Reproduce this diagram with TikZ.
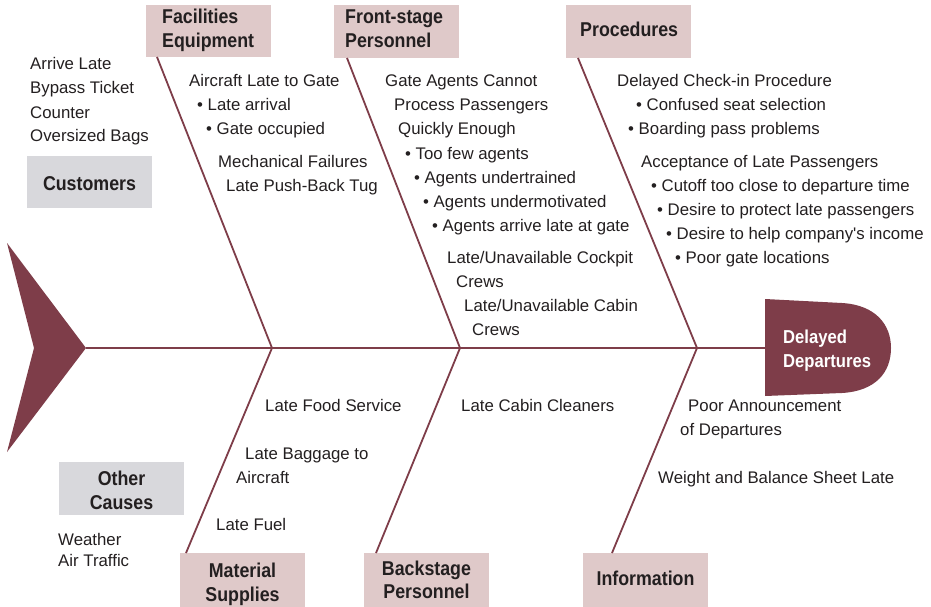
\documentclass[tikz,border=0pt]{standalone}
\usepackage{fontspec}
\setmainfont{Liberation Sans}
\newfontfamily\catfont[FakeStretch=0.89]{Liberation Sans}
\definecolor{fishred}{HTML}{7E3D49}
\definecolor{boxpink}{HTML}{DFC9C9}
\definecolor{boxgray}{HTML}{D8D8DC}
\definecolor{ink}{HTML}{231F20}
\begin{document}
\begin{tikzpicture}[x=1pt,y=-1pt,
  bone/.style={draw=fishred,line width=1.8pt},
  lbl/.style={anchor=base west,inner sep=0pt,font=\fontsize{16.8}{20}\selectfont,text=ink},
  box/.style={fill=boxpink,inner sep=0pt,anchor=north west},
  boxg/.style={box,fill=boxgray},
  cattxt/.style={inner sep=0pt,font=\catfont\bfseries\fontsize{20}{24}\selectfont,text=ink},
  catw/.style={cattxt,anchor=base west},
  catc/.style={cattxt,anchor=base},
  headtxt/.style={anchor=base west,inner sep=0pt,font=\catfont\bfseries\fontsize{18.7}{24}\selectfont,text=white}]
\useasboundingbox (0,0) rectangle (931,607);
% tail
\coordinate (tt) at (7,243);
\coordinate (tn) at (34,348);
\coordinate (tb) at (7,452);
\coordinate (tip) at (86,348);
\fill[fishred] (tt) -- (tip) -- (tb) -- (tn) -- cycle;
% head
\fill[fishred] (765,299) -- (842,303) .. controls (876,305) and (891,325) .. (891,348) .. controls (891,372) and (876,391) .. (842,393) -- (765,396) -- cycle;
\coordinate (hw) at (765,348);
\node[headtxt] (head1) at (783,343) {Delayed};
\node[headtxt] (head2) at (783,367) {Departures};
% junctions
\coordinate (j1) at (272,348);
\coordinate (j2) at (460,348);
\coordinate (j3) at (697,348);
\draw[bone] (tip) -- (hw);
% category boxes
\node[box,minimum width=125,minimum height=52] (fac) at (146,5) {};
\node[catw] (fac1) at (162,24) {Facilities};
\node[catw] (fac2) at (162,48) {Equipment};
\node[box,minimum width=125,minimum height=53] (fro) at (334,5) {};
\node[catw] (fro1) at (345,24) {Front-stage};
\node[catw] (fro2) at (345,48) {Personnel};
\node[box,minimum width=125,minimum height=53] (pro) at (566,5) {};
\node[catw] (pro1) at (580,37) {Procedures};
\node[boxg,minimum width=125,minimum height=52] (cus) at (27,156) {};
\node[catc] (cus1) at (89.5,190) {Customers};
\node[boxg,minimum width=125,minimum height=53] (oth) at (59,462) {};
\node[catc] (oth1) at (121.5,485) {Other};
\node[catc] (oth2) at (121.5,509) {Causes};
\node[box,minimum width=125,minimum height=60] (mat) at (180,553) {};
\node[catc] (mat1) at (242.5,577) {Material};
\node[catc] (mat2) at (242.5,601) {Supplies};
\node[box,minimum width=125,minimum height=60] (bac) at (364,553) {};
\node[catc] (bac1) at (426.5,575) {Backstage};
\node[catc] (bac2) at (426.5,598) {Personnel};
\node[box,minimum width=125,minimum height=60] (inf) at (583,553) {};
\node[catc] (inf1) at (645.5,585) {Information};
% bones
\coordinate (b1) at (157,57);
\coordinate (b2) at (347,58);
\coordinate (b3) at (578,58);
\coordinate (b4) at (186,553);
\coordinate (b5) at (376,553);
\coordinate (b6) at (612,553);
\draw[bone] (b1) -- (j1) -- (b4);
\draw[bone] (b2) -- (j2) -- (b5);
\draw[bone] (b3) -- (j3) -- (b6);
% customers
\node[lbl] (c1) at (30,70) {Arrive Late};
\node[lbl] (c2) at (30,94) {Bypass Ticket};
\node[lbl] (c3) at (30,118) {Counter};
\node[lbl] (c4) at (30,142) {Oversized Bags};
% facilities
\node[lbl] (f1) at (189,87) {Aircraft Late to Gate};
\node[lbl] (f2) at (197,111) {\textbullet\ Late arrival};
\node[lbl] (f3) at (206,135) {\textbullet\ Gate occupied};
\node[lbl] (f4) at (218,167) {Mechanical Failures};
\node[lbl] (f5) at (226,191) {Late Push-Back Tug};
% front-stage
\node[lbl] (p1) at (385,87) {Gate Agents Cannot};
\node[lbl] (p2) at (394,111) {Process Passengers};
\node[lbl] (p3) at (398,135) {Quickly Enough};
\node[lbl] (p4) at (405,159) {\textbullet\ Too few agents};
\node[lbl] (p5) at (414,183) {\textbullet\ Agents undertrained};
\node[lbl] (p6) at (423,207) {\textbullet\ Agents undermotivated};
\node[lbl] (p7) at (432,231) {\textbullet\ Agents arrive late at gate};
\node[lbl] (p8) at (447,263) {Late/Unavailable Cockpit};
\node[lbl] (p9) at (456,287) {Crews};
\node[lbl] (p10) at (464,311) {Late/Unavailable Cabin};
\node[lbl] (p11) at (472,335) {Crews};
% procedures
\node[lbl] (r1) at (617,87) {Delayed Check-in Procedure};
\node[lbl] (r2) at (636,111) {\textbullet\ Confused seat selection};
\node[lbl] (r3) at (628,135) {\textbullet\ Boarding pass problems};
\node[lbl] (r4) at (641,167) {Acceptance of Late Passengers};
\node[lbl] (r5) at (651,191) {\textbullet\ Cutoff too close to departure time};
\node[lbl] (r6) at (657,215) {\textbullet\ Desire to protect late passengers};
\node[lbl] (r7) at (666,239) {\textbullet\ Desire to help company\textquotesingle s income};
\node[lbl] (r8) at (675,263) {\textbullet\ Poor gate locations};
% bottom
\node[lbl] (m1) at (265,411) {Late Food Service};
\node[lbl] (m2) at (245,459) {Late Baggage to};
\node[lbl] (m3) at (236,483) {Aircraft};
\node[lbl] (m4) at (216,530) {Late Fuel};
\node[lbl] (k1) at (461,411) {Late Cabin Cleaners};
\node[lbl] (i1) at (688,411) {Poor Announcement};
\node[lbl] (i2) at (680,435) {of Departures};
\node[lbl] (i3) at (658,483) {Weight and Balance Sheet Late};
\node[lbl] (o1) at (58,545) {Weather};
\node[lbl] (o2) at (58,566) {Air Traffic};
\end{tikzpicture}
\end{document}
